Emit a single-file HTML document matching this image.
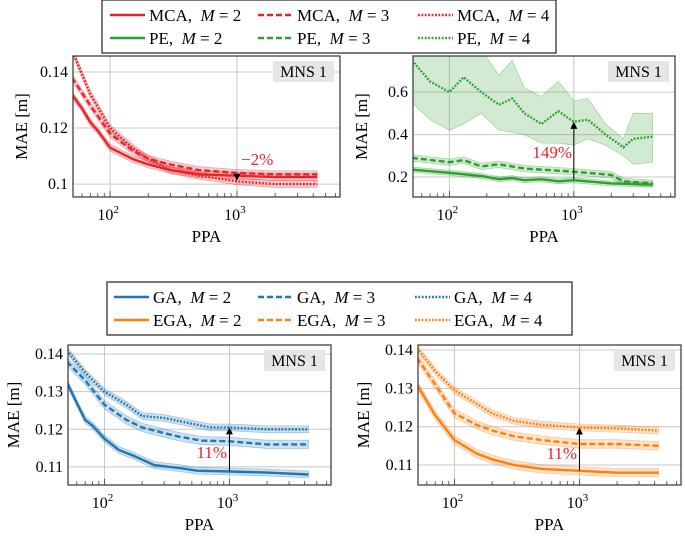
<!DOCTYPE html>
<html><head><meta charset="utf-8"><style>
html,body{margin:0;padding:0;background:#fff;}
svg, svg text{font-family:"Liberation Serif","DejaVu Serif",serif;}
</style></head><body>
<svg id="fig" width="685" height="532" viewBox="0 0 685 532" xmlns="http://www.w3.org/2000/svg" font-family="Liberation Serif, serif"></svg>
<script>
// ---- data ----
const mcaX2=[50,60,70,80,100,150,200,300,500,1000,2000,4300];
const mcaY2=[0.132,0.127,0.122,0.119,0.113,0.109,0.107,0.105,0.1035,0.103,0.1025,0.1025];
const mcaX3=[50,70,100,150,200,300,500,1000,2000,4300];
const mcaY3=[0.138,0.128,0.118,0.112,0.109,0.107,0.105,0.104,0.1035,0.1035];
const mcaX4=[52,70,100,150,200,300,500,1000,2000,4300];
const mcaY4=[0.146,0.132,0.120,0.113,0.109,0.105,0.103,0.101,0.100,0.100];
const peX2=[50,100,180,250,320,400,550,750,1000,2000,4300];
const peY2=[0.235,0.22,0.205,0.19,0.195,0.185,0.19,0.18,0.185,0.17,0.165];
const peX3=[50,100,130,180,250,400,1000,2000,2500,4300];
const peY3=[0.29,0.27,0.28,0.25,0.26,0.24,0.225,0.21,0.18,0.17];
const peX4=[50,70,100,130,180,250,320,400,550,750,1000,1300,1800,2500,3000,4300];
const peY4=[0.75,0.65,0.60,0.67,0.60,0.54,0.57,0.50,0.45,0.51,0.46,0.47,0.40,0.34,0.38,0.39];
const peLo4=[0.55,0.47,0.42,0.45,0.50,0.42,0.41,0.40,0.36,0.36,0.35,0.38,0.35,0.30,0.26,0.27];
const peHi4=[0.80,0.80,0.80,0.80,0.80,0.68,0.75,0.62,0.58,0.65,0.56,0.57,0.45,0.38,0.50,0.50];
const gaX2=[50,60,70,80,100,130,170,250,330,400,550,1000,2000,4300];
const gaY2=[0.1325,0.127,0.1225,0.121,0.1175,0.1145,0.113,0.1105,0.110,0.1097,0.109,0.1088,0.1085,0.108];
const gaX3=[50,70,100,150,200,300,400,600,1000,2000,4300];
const gaY3=[0.138,0.133,0.1265,0.1225,0.1205,0.119,0.118,0.117,0.1168,0.116,0.116];
const gaX4=[50,70,100,150,200,300,500,700,1000,2000,4300];
const gaY4=[0.141,0.135,0.130,0.1265,0.1235,0.123,0.1215,0.1205,0.1205,0.120,0.120];
const egaX2=[50,70,100,150,200,300,500,1000,2000,4300];
const egaY2=[0.131,0.123,0.1165,0.113,0.1115,0.110,0.109,0.1085,0.108,0.108];
const egaX3=[50,70,100,150,200,300,500,1000,2000,4300];
const egaY3=[0.138,0.131,0.1235,0.1205,0.119,0.1175,0.1165,0.1155,0.1155,0.115];
const egaX4=[50,70,100,150,200,300,500,1000,2000,4300];
const egaY4=[0.1405,0.1345,0.1295,0.126,0.1235,0.1215,0.1205,0.1198,0.1195,0.119];
const yTicksTop=[0.1,0.12,0.14];
const yLabTop=["0.1","0.12","0.14"];
const yTicksPE=[0.2,0.4,0.6];
const yLabPE=["0.2","0.4","0.6"];
const yTicksBot=[0.11,0.12,0.13,0.14];
const yLabBot=["0.11","0.12","0.13","0.14"];
const xDecades=[100,1000];

const NS="http://www.w3.org/2000/svg";
const svg=document.getElementById('fig');
const FF='Liberation Serif, serif';
function mk(tag,attrs,parent){const e=document.createElementNS(NS,tag);for(const k in attrs)e.setAttribute(k,attrs[k]);if(tag==='text')e.setAttribute('font-family',FF);(parent||svg).appendChild(e);return e;}
const DASH={solid:"",dashed:"6 3",dotted:"1.8 1.6"};

function panel(o){
  const g=mk('g',{});
  
  
  const sx=v=>o.x0+(Math.log10(v)-Math.log10(o.xmin))/(Math.log10(o.xmax)-Math.log10(o.xmin))*(o.x1-o.x0);
  const sy=v=>o.y1-(v-o.ymin)/(o.ymax-o.ymin)*(o.y1-o.y0);
  const clip='c'+o.name;
  const d=mk('clipPath',{id:clip},g);mk('rect',{x:o.x0,y:o.y0,width:o.x1-o.x0,height:o.y1-o.y0},d);
  xDecades.forEach(v=>{const l=mk('line',{x1:sx(v),x2:sx(v),y1:o.y0,y2:o.y1,stroke:'#c8c8c8','stroke-width':1},g);});
  o.yt.forEach((v,i)=>{const l=mk('line',{x1:o.x0,x2:o.x1,y1:sy(v),y2:sy(v),stroke:'#c8c8c8','stroke-width':1},g);
    const t=mk('text',{x:o.x0-5,y:sy(v)+5,'text-anchor':'end','font-size':16},g);t.textContent=o.yl[i];});
  const dg=mk('g',{'clip-path':'url(#'+clip+')'},g);
  o.series.forEach(s=>{
    let up,lo;
    if(s.lo){lo=s.lo;up=s.hi;}else{up=s.y.map(v=>v+s.w);lo=s.y.map(v=>v-s.w);}
    let p='';s.x.forEach((x,i)=>p+=(i?'L':'M')+sx(x).toFixed(1)+','+sy(up[i]).toFixed(1));
    for(let i=s.x.length-1;i>=0;i--)p+='L'+sx(s.x[i]).toFixed(1)+','+sy(lo[i]).toFixed(1);
    const b=mk('path',{d:p+'Z',fill:s.c,'fill-opacity':0.22,stroke:s.c,'stroke-opacity':0.35,'stroke-width':0.8},dg);
    
    let q='';s.x.forEach((x,i)=>q+=(i?'L':'M')+sx(x).toFixed(1)+','+sy(s.y[i]).toFixed(1));
    const l=mk('path',{d:q,fill:'none',stroke:s.c,'stroke-width':2.4,'stroke-dasharray':DASH[s.st]},dg);
    
  });
  for(let dec=10;dec<=10000;dec*=10)for(let k=1;k<10;k++){const v=dec*k;if(v<=o.xmin||v>=o.xmax)continue;
    const len=k==1?6:4;mk('line',{x1:sx(v),x2:sx(v),y1:o.y1,y2:o.y1-len,stroke:'#444','stroke-width':0.8},g);}
  xDecades.forEach(v=>{const t=mk('text',{x:sx(v)-2,y:o.y1+23,'text-anchor':'middle','font-size':16},g);
    t.innerHTML='10<tspan dy="-7" font-size="11">'+Math.log10(v)+'</tspan>';});
  const fr=mk('rect',{x:o.x0,y:o.y0,width:o.x1-o.x0,height:o.y1-o.y0,fill:'none',stroke:'#333','stroke-width':1.2},g);
  
  const mb=mk('rect',{x:o.x1-67,y:o.y0+5,width:61,height:21,fill:'#e6e6e6'},g);
  
  const mt=mk('text',{x:o.x1-36.5,y:o.y0+21,'text-anchor':'middle','font-size':16},g);mt.textContent='MNS 1';
  
  const xl=mk('text',{x:(o.x0+o.x1)/2,y:o.y1+45,'text-anchor':'middle','font-size':17},g);xl.textContent='PPA';
  
  const yl=mk('text',{x:0,y:0,'text-anchor':'middle','font-size':17,transform:'translate('+o.ylx+','+((o.y0+o.y1)/2)+') rotate(-90)'},g);yl.textContent='MAE [m]';
  
  const a=o.ann;const ax=sx(1000);
  const ar=mk('line',{x1:ax,x2:ax,y1:sy(a.from),y2:sy(a.to)+(a.to>a.from?6:-6),stroke:'#000','stroke-width':1},g);
  
  const ty=sy(a.to),dir=a.to>a.from?1:-1;
  mk('path',{d:`M${ax},${ty}L${ax-3.5},${ty+7*dir}L${ax+3.5},${ty+7*dir}Z`,fill:'#000'},g);
  const at=mk('text',{x:a.tx,y:a.ty,'text-anchor':a.anchor,'font-size':17,fill:'#e8242b'},g);at.textContent=a.text;
  
}
const R='#e8242b',G='#2ca02c',B='#1f77b4',O='#ff7f0e';
panel({name:'mca-panel',x0:73,x1:340,y0:56,y1:197,xmin:51,xmax:6500,ymin:0.0954,ymax:0.1457,yt:yTicksTop,yl:yLabTop,ylx:27,
 series:[{n:'mca-m2',x:mcaX2,y:mcaY2,w:0.0012,c:R,st:'solid'},{n:'mca-m3',x:mcaX3,y:mcaY3,w:0.0012,c:R,st:'dashed'},{n:'mca-m4',x:mcaX4,y:mcaY4,w:0.0012,c:R,st:'dotted'}],
 ann:{from:0.1037,to:0.1012,text:'−2%',tx:241,ty:165,anchor:'start'}});
panel({name:'pe-panel',x0:413,x1:675,y0:56,y1:197,xmin:51,xmax:6500,ymin:0.106,ymax:0.77,yt:yTicksPE,yl:yLabPE,ylx:367,
 series:[{n:'pe-m2',x:peX2,y:peY2,w:0.012,c:G,st:'solid'},{n:'pe-m3',x:peX3,y:peY3,w:0.015,c:G,st:'dashed'},{n:'pe-m4',x:peX4,y:peY4,lo:peLo4,hi:peHi4,c:G,st:'dotted'}],
 ann:{from:0.19,to:0.46,text:'149%',tx:572,ty:158,anchor:'end'}});
panel({name:'ga-panel',x0:68,x1:331,y0:345,y1:485,xmin:51,xmax:6500,ymin:0.1052,ymax:0.1424,yt:yTicksBot,yl:yLabBot,ylx:19,
 series:[{n:'ga-m2',x:gaX2,y:gaY2,w:0.0009,c:B,st:'solid'},{n:'ga-m3',x:gaX3,y:gaY3,w:0.0011,c:B,st:'dashed'},{n:'ga-m4',x:gaX4,y:gaY4,w:0.0009,c:B,st:'dotted'}],
 ann:{from:0.109,to:0.1205,text:'11%',tx:227,ty:458,anchor:'end'}});
panel({name:'ega-panel',x0:418,x1:681,y0:345,y1:485,xmin:51,xmax:6500,ymin:0.1048,ymax:0.1413,yt:yTicksBot,yl:yLabBot,ylx:369,
 series:[{n:'ega-m2',x:egaX2,y:egaY2,w:0.0011,c:O,st:'solid'},{n:'ega-m3',x:egaX3,y:egaY3,w:0.0011,c:O,st:'dashed'},{n:'ega-m4',x:egaX4,y:egaY4,w:0.0009,c:O,st:'dotted'}],
 ann:{from:0.1085,to:0.1198,text:'11%',tx:577,ty:459,anchor:'end'}});

function legend(name,x,y,w,h,rows,cols){
  const g=mk('g',{});
  mk('rect',{x:x,y:y,width:w,height:h,fill:'#fff',stroke:'#222','stroke-width':1.2},g);
  rows.forEach((r,ri)=>r.forEach((e,ci)=>{
    const ly=y+15+ri*23,lx=cols[ci];
    const eg=mk('g',{},g);
    mk('line',{x1:lx,x2:lx+35,y1:ly,y2:ly,stroke:e.c,'stroke-width':2.4,'stroke-dasharray':DASH[e.st]},eg);
    const t=mk('text',{x:lx+39,y:ly+6,'font-size':17},eg);
    t.innerHTML=e.t+',&#160;&#160;<tspan font-style="italic">M</tspan> = '+e.m;
  }));
}
legend('legend-top',102,0,454,53,[
 [{c:R,st:'solid',t:'MCA',m:2},{c:R,st:'dashed',t:'MCA',m:3},{c:R,st:'dotted',t:'MCA',m:4}],
 [{c:G,st:'solid',t:'PE',m:2},{c:G,st:'dashed',t:'PE',m:3},{c:G,st:'dotted',t:'PE',m:4}]],[110,258,418]);
legend('legend-bottom',107,282,465,53,[
 [{c:B,st:'solid',t:'GA',m:2},{c:B,st:'dashed',t:'GA',m:3},{c:B,st:'dotted',t:'GA',m:4}],
 [{c:O,st:'solid',t:'EGA',m:2},{c:O,st:'dashed',t:'EGA',m:3},{c:O,st:'dotted',t:'EGA',m:4}]],[114,258,415]);
</script>
</body></html>
